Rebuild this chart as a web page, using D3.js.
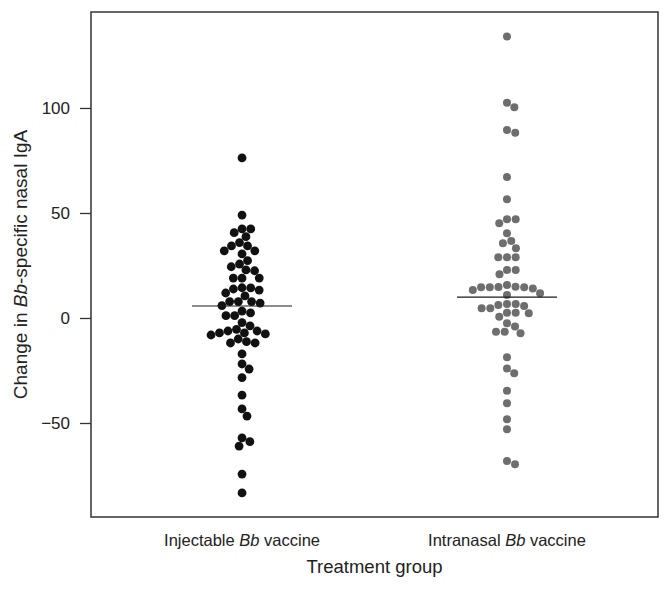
<!DOCTYPE html>
<html>
<head>
<meta charset="utf-8">
<script src="https://cdn.jsdelivr.net/npm/d3@7"></script>
<style>
  body { margin: 0; background: #fff; }
  svg { display: block; font-family: "Liberation Sans", Arial, Helvetica, sans-serif; }
</style>
</head>
<body>
<svg id="chart" width="672" height="589"></svg>
<script>
// groups on the x axis
const groups = ['injectable', 'intranasal'];
const groupLabels = [['Injectable ', 'Bb', ' vaccine'], ['Intranasal ', 'Bb', ' vaccine']];

// change in Bb-specific nasal IgA
const injectable = [
  76.2, 49.0, 42.4, 40.6, 42.4, 38.7, 35.9, 32.0, 32.0, 34.3, 34.3, 30.5,
  27.3, 24.4, 22.9, 25.7, 22.5, 19.0, 19.0, 19.0, 13.8, 13.3, 14.3, 14.4,
  11.9, 10.5, 7.8, 7.8, 7.8, 5.9, 7.1, 3.3, 1.1, 1.1, 2.4, -2.2, -3.8,
  -6.2, -7.6, -7.1, -8.1, -7.1, -6.2, -5.4, -11.3, -11.9, -11.9, -10.0,
  -17.1, -21.9, -24.3, -28.4, -36.7, -43.3, -46.7, -57.1, -58.9, -61.0,
  -74.3, -83.3
];
const intranasal = [
  134.0, 100.3, 102.5, 88.2, 89.5, 67.1, 56.5, 47.0, 47.0, 45.1, 40.3,
  36.7, 35.6, 33.2, 28.9, 28.9, 28.9, 22.9, 22.9, 20.8, 15.7, 14.6, 14.6,
  14.1, 13.3, 14.6, 14.9, 11.8, 11.0, 14.8, 6.7, 5.7, 2.5, 6.7, 2.5, 4.6,
  0.6, 2.2, 4.6, 6.2, -2.5, -4.1, -6.5, -6.5, -7.3, -18.7, -24.0, -26.3,
  -34.6, -40.6, -48.2, -53.0, -68.1, -69.7
];
// horizontal reference line per group
const centerLines = [5.7, 9.9];
const yTicks = [-50, 0, 50, 100];

const width = 672, height = 589;
const margin = { top: 12, right: 14, bottom: 72, left: 91 };
const innerW = width - margin.left - margin.right;
const innerH = height - margin.top - margin.bottom;

const svg = d3.select('#chart');
const g = svg.append('g').attr('transform', `translate(${margin.left},${margin.top})`);

const x = d3.scalePoint().domain(groups).range([0, innerW]).padding(0.57);
const y = d3.scaleLinear().domain([-94.76, 145.7]).range([innerH, 0]);

// Simple swarm: place each point (sorted by value) at the free offset nearest the centre
function swarm(values, diameter) {
  const pts = values.map(v => ({ v, py: y(v) })).sort((a, b) => a.py - b.py);
  const placed = [];
  pts.forEach(p => {
    const near = placed.filter(q => Math.abs(q.py - p.py) < diameter);
    const cands = [0];
    near.forEach(q => {
      const dx = Math.sqrt(diameter * diameter - (q.py - p.py) ** 2);
      cands.push(q.dx + dx, q.dx - dx);
    });
    cands.sort((a, b) => Math.abs(a) - Math.abs(b));
    const ok = cands.find(c => near.every(q =>
      (q.dx - c) ** 2 + (q.py - p.py) ** 2 >= diameter * diameter - 0.01));
    p.dx = ok;
    placed.push(p);
  });
  return placed;
}

const series = [
  { key: 'injectable', values: injectable, color: '#111111', r: 4.4 },
  { key: 'intranasal', values: intranasal, color: '#6e6e6e', r: 4.0 }
];

series.forEach((s, i) => {
  const pts = swarm(s.values, 8.7);
  g.append('g').selectAll('circle')
    .data(pts)
    .join('circle')
    .attr('cx', d => x(s.key) + d.dx)
    .attr('cy', d => d.py)
    .attr('r', s.r)
    .attr('fill', s.color);

  g.append('line')
    .attr('x1', x(s.key) - 50)
    .attr('x2', x(s.key) + 50)
    .attr('y1', y(centerLines[i]))
    .attr('y2', y(centerLines[i]))
    .attr('stroke', '#1a1a1a')
    .attr('stroke-width', 1.2);
});

// y axis
const yAxis = g.append('g')
  .call(d3.axisLeft(y).tickValues(yTicks).tickSize(11).tickPadding(10));
yAxis.select('.domain').remove();
yAxis.selectAll('.tick line').attr('stroke', '#333').attr('stroke-width', 1.3);
yAxis.selectAll('.tick text').attr('font-size', 17).attr('fill', '#222');

// frame
g.append('rect')
  .attr('width', innerW)
  .attr('height', innerH)
  .attr('fill', 'none')
  .attr('stroke', '#333')
  .attr('stroke-width', 1.5);

// x tick labels
groups.forEach((k, i) => {
  const t = g.append('text')
    .attr('x', x(k))
    .attr('y', innerH + 29)
    .attr('text-anchor', 'middle')
    .attr('font-size', 16.5)
    .attr('fill', '#222');
  groupLabels[i].forEach((part, j) => {
    t.append('tspan').attr('font-style', j === 1 ? 'italic' : null).text(part);
  });
});

// axis titles
svg.append('text')
  .attr('x', margin.left + innerW / 2)
  .attr('y', 573)
  .attr('text-anchor', 'middle')
  .attr('font-size', 18.5)
  .attr('fill', '#222')
  .text('Treatment group');

const yt = svg.append('text')
  .attr('transform', `translate(27,${margin.top + innerH / 2}) rotate(-90)`)
  .attr('text-anchor', 'middle')
  .attr('font-size', 19)
  .attr('fill', '#222');
yt.append('tspan').text('Change in ');
yt.append('tspan').attr('font-style', 'italic').text('Bb');
yt.append('tspan').text('-specific nasal IgA');
</script>
</body>
</html>
